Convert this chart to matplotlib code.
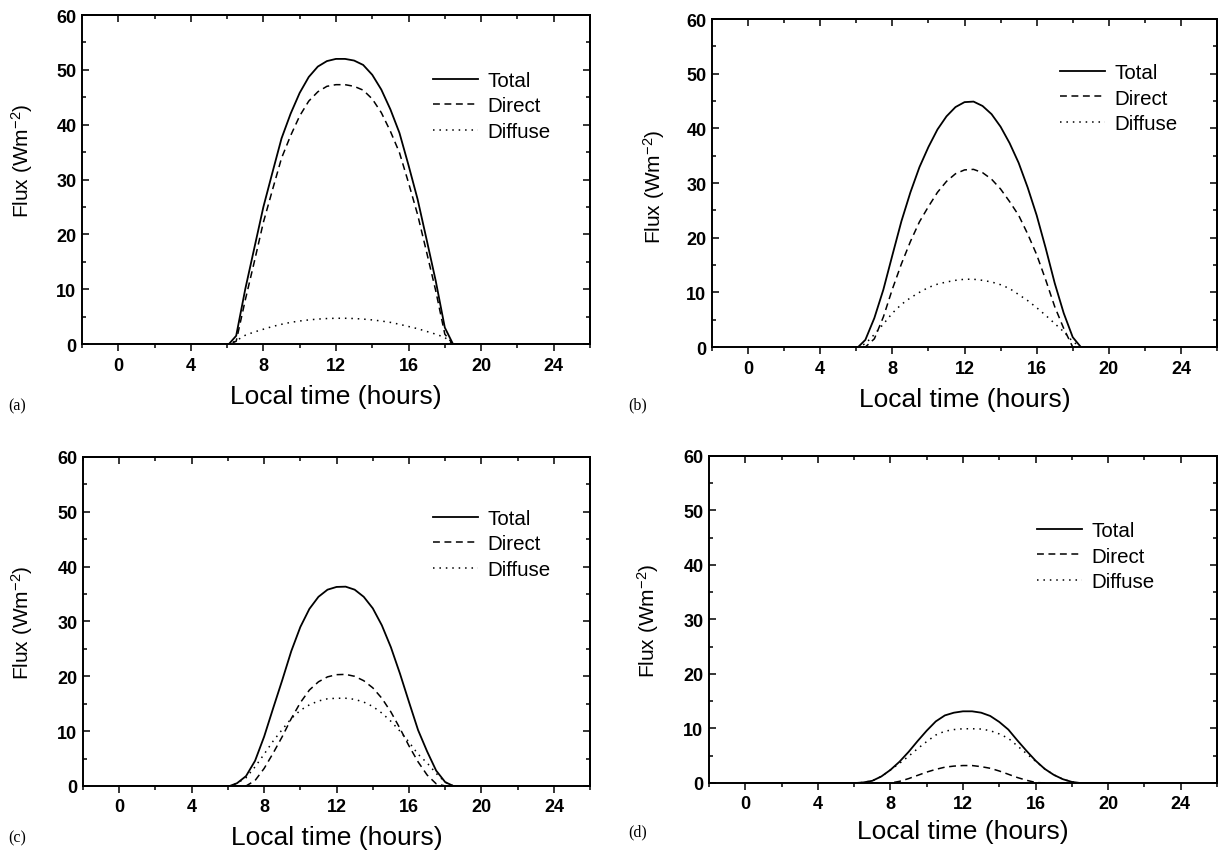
import matplotlib
matplotlib.use('Agg')
import matplotlib.pyplot as plt
from matplotlib.ticker import MultipleLocator

plt.rcParams['font.family'] = ['Liberation Sans', 'DejaVu Sans']
plt.rcParams['mathtext.default'] = 'regular'

# local time grid (hours)
hours = [0, 6.1, 6.5, 7.0, 7.5, 8.0, 8.5, 9.0, 9.5, 10.0, 10.5, 11.0, 11.5, 12.0,
         12.5, 13.0, 13.5, 14.0, 14.5, 15.0, 15.5, 16.0, 16.5, 17.0, 17.5, 18.0, 18.45, 24]

# flux values (W m^-2), one list per panel
total_a = [0, 0, 1.5, 10, 17.5, 25, 31.3, 37.5, 42, 45.8, 48.7, 50.6, 51.6, 52, 52,
           51.7, 50.9, 49.1, 46.4, 42.8, 38.5, 32.6, 26.4, 19, 11.5, 3.0, 0, 0]
direct_a = [0, 0, 0.5, 8.0, 15.0, 22.2, 28.1, 33.9, 38.0, 41.6, 44.3, 46.0, 47.0, 47.3, 47.3,
            47.0, 46.3, 44.7, 42.2, 38.8, 34.9, 29.4, 23.6, 16.7, 9.7, 1.8, 0, 0]
diffuse_a = [0, 0, 0.6, 1.6, 2.2, 2.7, 3.2, 3.6, 3.95, 4.2, 4.4, 4.55, 4.65, 4.7, 4.7,
             4.65, 4.55, 4.4, 4.2, 3.95, 3.6, 3.2, 2.8, 2.3, 1.8, 1.2, 0, 0]

total_b = [0, 0, 1.3, 5.3, 10.5, 16.8, 23, 28.3, 32.9, 36.6, 39.8, 42.2, 43.9, 44.8, 44.9,
           44.1, 42.6, 40.3, 37.3, 33.7, 29.2, 24.1, 18.1, 11.7, 6.2, 1.8, 0, 0]
direct_b = [0, 0, 0, 1.5, 5.5, 10.6, 15.2, 19.3, 22.9, 25.7, 28.3, 30.3, 31.7, 32.4, 32.5,
            31.9, 30.7, 28.9, 26.6, 24.1, 20.7, 16.9, 12.3, 7.4, 3.4, 0, 0, 0]
diffuse_b = [0, 0, 0.6, 2.3, 4.2, 6.2, 7.8, 9.0, 10.0, 10.9, 11.5, 11.9, 12.2, 12.4, 12.4,
             12.2, 11.9, 11.4, 10.7, 9.6, 8.5, 7.2, 5.8, 4.3, 2.8, 1.0, 0, 0]

total_c = [0, 0, 0.5, 1.8, 4.6, 9.0, 14.2, 19.3, 24.6, 29.0, 32.3, 34.5, 35.8, 36.3, 36.35,
           35.8, 34.5, 32.4, 29.3, 25.3, 20.5, 15.3, 10.2, 6.3, 2.8, 0.7, 0, 0]
direct_c = [0, 0, 0, 0, 1.0, 3.2, 6.0, 9.0, 12.3, 15.2, 17.5, 19.0, 19.9, 20.3, 20.35,
            20.0, 19.2, 17.9, 16.0, 13.5, 10.5, 7.3, 4.4, 2.0, 0.4, 0, 0, 0]
diffuse_c = [0, 0, 0.5, 1.5, 3.5, 5.8, 8.2, 10.3, 12.3, 13.8, 14.8, 15.5, 15.9, 16.0, 16.0,
             15.8, 15.3, 14.5, 13.3, 11.8, 10.0, 8.0, 5.8, 4.2, 2.3, 0.7, 0, 0]

total_d = [0, 0, 0.1, 0.4, 1.2, 2.4, 3.9, 5.7, 7.7, 9.6, 11.3, 12.4, 12.9, 13.15, 13.15,
           12.9, 12.3, 11.2, 9.8, 7.8, 5.9, 4.1, 2.6, 1.5, 0.7, 0.2, 0, 0]
direct_d = [0, 0, 0, 0, 0, 0, 0.3, 0.8, 1.4, 2.0, 2.5, 2.9, 3.1, 3.2, 3.2,
            3.0, 2.7, 2.2, 1.6, 1.0, 0.5, 0.1, 0, 0, 0, 0, 0, 0]
diffuse_d = [0, 0, 0.1, 0.4, 1.2, 2.4, 3.6, 4.9, 6.3, 7.6, 8.8, 9.5, 9.8, 9.95, 9.95,
             9.9, 9.6, 9.0, 8.2, 6.8, 5.4, 4.0, 2.6, 1.5, 0.7, 0.2, 0, 0]

totals = [total_a, total_b, total_c, total_d]
directs = [direct_a, direct_b, direct_c, direct_d]
diffuses = [diffuse_a, diffuse_b, diffuse_c, diffuse_d]
panel_tags = ['(a)', '(b)', '(c)', '(d)']
series_names = ['Total', 'Direct', 'Diffuse']

# layout (figure fractions)
rects = [[0.0670, 0.5955, 0.4154, 0.3857],
         [0.5822, 0.5920, 0.4129, 0.3845],
         [0.0679, 0.0774, 0.4146, 0.3857],
         [0.5797, 0.0809, 0.4154, 0.3834]]
legend_pos = [(0.354, 0.8746), (0.8667, 0.8839), (0.354, 0.3611), (0.8479, 0.347)]
xlabel_y = [-0.158, -0.159, -0.155, -0.147]
ylabel_xy = [(-0.118, 0.56), (-0.115, 0.49), (-0.120, 0.5), (-0.120, 0.5)]
tag_pos = [(0.0065, 0.523), (0.5135, 0.525), (0.0065, 0.0176), (0.5135, 0.0246)]

fig = plt.figure(figsize=(12.23, 8.53), dpi=100)

for i in range(4):
    ax = fig.add_axes(rects[i])
    ax.plot(hours, totals[i], color='k', lw=1.3, label=series_names[0])
    ax.plot(hours, directs[i], color='k', lw=1.1, ls=(0, (4.5, 3)), label=series_names[1])
    ax.plot(hours, diffuses[i], color='k', lw=1.1, ls=(0, (1, 3.2)), label=series_names[2])
    ax.set_xlim(-2, 26)
    ax.set_ylim(0, 60)
    ax.xaxis.set_major_locator(MultipleLocator(4))
    ax.xaxis.set_minor_locator(MultipleLocator(2))
    ax.yaxis.set_major_locator(MultipleLocator(10))
    ax.yaxis.set_minor_locator(MultipleLocator(5))
    ax.tick_params(axis='x', which='both', direction='out', top=False, width=1.1)
    ax.tick_params(axis='y', which='both', direction='in', right=False, width=1.1)
    ax.tick_params(which='major', length=5, labelsize=13, pad=4)
    ax.tick_params(which='minor', length=3)
    for lab in ax.get_xticklabels() + ax.get_yticklabels():
        lab.set_fontweight('bold')
    for sp in ax.spines.values():
        sp.set_linewidth(1.4)

    # inward ticks on top and right
    top = ax.secondary_xaxis('top')
    top.xaxis.set_major_locator(MultipleLocator(4))
    top.xaxis.set_minor_locator(MultipleLocator(2))
    top.tick_params(axis='x', which='both', direction='in', labeltop=False, width=1.1)
    top.tick_params(which='major', length=5)
    top.tick_params(which='minor', length=3)
    top.spines['top'].set_linewidth(1.4)
    right = ax.secondary_yaxis('right')
    right.yaxis.set_major_locator(MultipleLocator(10))
    right.yaxis.set_minor_locator(MultipleLocator(5))
    right.tick_params(axis='y', which='both', direction='in', labelright=False, width=1.1)
    right.tick_params(which='major', length=5)
    right.tick_params(which='minor', length=3)
    right.spines['right'].set_linewidth(1.4)

    ax.set_xlabel('Local time (hours)', fontsize=19)
    ax.xaxis.set_label_coords(0.5, xlabel_y[i])
    ax.xaxis.label.set_va('center')
    ax.set_ylabel('Flux (Wm$^{-2}$)', fontsize=15)
    ax.yaxis.set_label_coords(ylabel_xy[i][0], ylabel_xy[i][1])
    ax.yaxis.label.set_va('center')

    ax.legend(loc='center left', bbox_to_anchor=legend_pos[i], bbox_transform=fig.transFigure,
              frameon=False, fontsize=14.8, handlelength=2.2, handletextpad=0.45,
              labelspacing=0.32, borderpad=0, borderaxespad=0)

    fig.text(tag_pos[i][0], tag_pos[i][1], panel_tags[i], family='Liberation Serif',
             fontsize=11.5, va='center', ha='left')

fig.savefig('out.png', dpi=100)
